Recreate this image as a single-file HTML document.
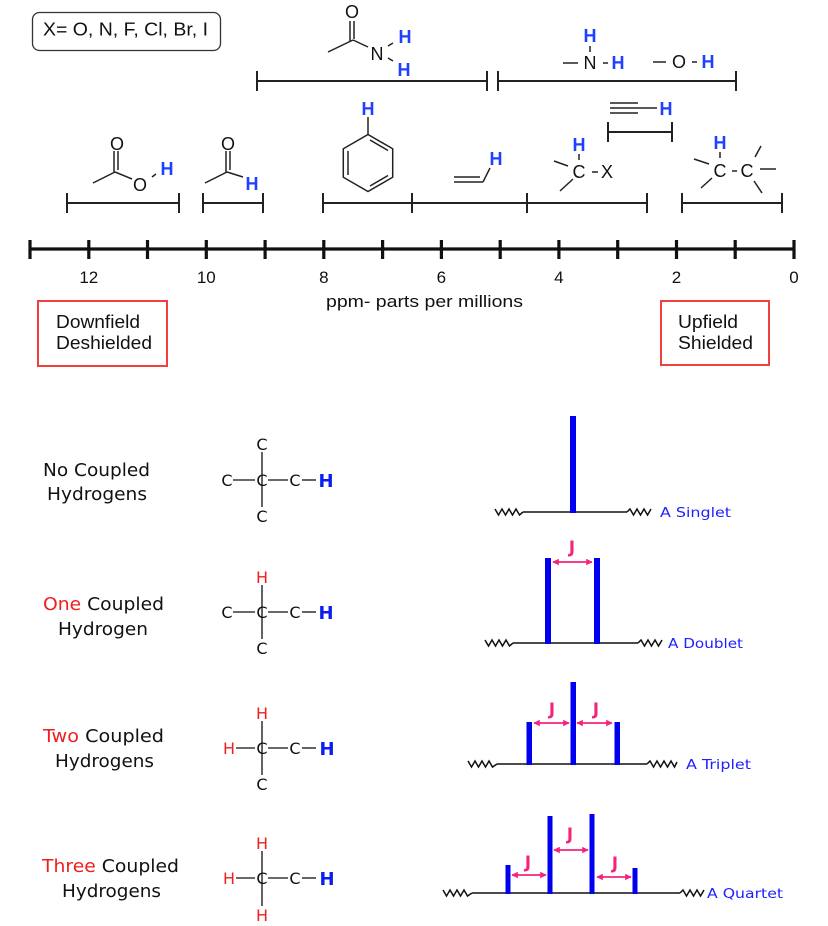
<!DOCTYPE html>
<html>
<head>
<meta charset="utf-8">
<style>
  html,body{margin:0;padding:0;background:#fff;}
  svg{display:block;}
  .ls{font-family:"Liberation Sans",Arial,sans-serif;}
  .dv{font-family:"DejaVu Sans",Verdana,sans-serif;}
</style>
</head>
<body>
<svg width="828" height="926" viewBox="0 0 828 926" xmlns="http://www.w3.org/2000/svg">
  <defs>
    <marker id="ah" viewBox="0 0 10 10" refX="9" refY="5" markerWidth="6.5" markerHeight="6.5" orient="auto-start-reverse" markerUnits="userSpaceOnUse">
      <path d="M0 0 L10 5 L0 10 z" fill="#f4247c"/>
    </marker>
  </defs>

  <!-- ============ TOP SECTION ============ -->
  <rect x="32.5" y="12.5" width="188" height="38" rx="7" ry="7" fill="none" stroke="#333" stroke-width="1.3"/>
  <text class="ls" x="43" y="35.5" font-size="18" fill="#111" textLength="165" lengthAdjust="spacingAndGlyphs">X= O, N, F, Cl, Br, I</text>

  <g stroke="#222" stroke-width="1.5" fill="none">
    <!-- amide -->
    <line x1="328" y1="52" x2="353" y2="40"/>
    <line x1="350" y1="21" x2="350" y2="41"/>
    <line x1="354" y1="21" x2="354" y2="39"/>
    <line x1="353" y1="40" x2="368" y2="47"/>
    <line x1="388" y1="46" x2="393" y2="43"/>
    <line x1="388" y1="58" x2="393" y2="61"/>
    <!-- NH -->
    <line x1="590" y1="46" x2="590" y2="52"/>
    <line x1="563" y1="63" x2="578" y2="63"/>
    <line x1="603" y1="63" x2="608" y2="63"/>
    <!-- OH -->
    <line x1="653" y1="62" x2="666" y2="62"/>
    <line x1="692" y1="62" x2="697" y2="62"/>
    <!-- alkyne -->
    <line x1="610" y1="103" x2="638" y2="103"/>
    <line x1="610" y1="108" x2="657" y2="108"/>
    <line x1="610" y1="113" x2="638" y2="113"/>
    <!-- acid -->
    <line x1="114" y1="151" x2="114" y2="172"/>
    <line x1="118" y1="151" x2="118" y2="170"/>
    <line x1="93" y1="183" x2="115" y2="172"/>
    <line x1="115" y1="172" x2="132" y2="179"/>
    <line x1="152" y1="177" x2="156" y2="174"/>
    <!-- aldehyde -->
    <line x1="226" y1="151" x2="226" y2="172"/>
    <line x1="230" y1="151" x2="230" y2="170"/>
    <line x1="205" y1="183" x2="227" y2="172"/>
    <line x1="227" y1="172" x2="243" y2="177"/>
    <!-- benzene -->
    <line x1="368" y1="117" x2="368" y2="134.5"/>
    <polygon points="368,134.5 392.7,148.75 392.7,177.25 368,191.5 343.3,177.25 343.3,148.75"/>
    <line x1="370" y1="140" x2="388" y2="150.5"/>
    <line x1="348" y1="151" x2="348" y2="175"/>
    <line x1="370" y1="186" x2="388" y2="175.5"/>
    <!-- vinyl -->
    <line x1="454" y1="177" x2="480" y2="177"/>
    <line x1="454" y1="182" x2="483" y2="182"/>
    <line x1="483" y1="182" x2="490" y2="168"/>
    <!-- C-X -->
    <line x1="579" y1="154" x2="579" y2="160"/>
    <line x1="554" y1="161" x2="568" y2="166"/>
    <line x1="560" y1="191" x2="573" y2="179"/>
    <line x1="592" y1="172" x2="598" y2="172"/>
    <!-- C-C -->
    <line x1="720" y1="152" x2="720" y2="158"/>
    <line x1="694" y1="159" x2="709" y2="164"/>
    <line x1="701" y1="188" x2="712" y2="178"/>
    <line x1="732" y1="171" x2="737" y2="171"/>
    <line x1="755" y1="157" x2="761" y2="146"/>
    <line x1="760" y1="169" x2="776" y2="169"/>
    <line x1="754" y1="181" x2="762" y2="193"/>
  </g>

  <!-- brackets -->
  <g stroke="#222" stroke-width="2" fill="none">
    <path d="M257 81 H487 M257 71 V91 M487 71 V91"/>
    <path d="M498 81 H736 M498 71 V91 M736 71 V91"/>
    <path d="M608 132 H672 M608 122 V142 M672 122 V142"/>
    <path d="M67 203 H179 M67 193 V213 M179 193 V213"/>
    <path d="M203 203 H263 M203 193 V213 M263 193 V213"/>
    <path d="M323 203 H647 M323 193 V213 M412 193 V213 M527 193 V213 M647 193 V213"/>
    <path d="M682 203 H782 M682 193 V213 M782 193 V213"/>
  </g>

  <!-- top letters -->
  <g class="ls" font-size="18" fill="#111" text-anchor="middle">
    <text x="352" y="18">O</text>
    <text x="377" y="60">N</text>
    <text x="590" y="69">N</text>
    <text x="679" y="68">O</text>
    <text x="117" y="150">O</text>
    <text x="140" y="191">O</text>
    <text x="228" y="150">O</text>
    <text x="579" y="178">C</text>
    <text x="607" y="178">X</text>
    <text x="720" y="177">C</text>
    <text x="747" y="177">C</text>
  </g>
  <g class="ls" font-size="18" font-weight="bold" fill="#2040ff" text-anchor="middle">
    <text x="405" y="43">H</text>
    <text x="404" y="76">H</text>
    <text x="590" y="42">H</text>
    <text x="618" y="69">H</text>
    <text x="708" y="68">H</text>
    <text x="666" y="115">H</text>
    <text x="167" y="175">H</text>
    <text x="252" y="190">H</text>
    <text x="368" y="115">H</text>
    <text x="496" y="165">H</text>
    <text x="579" y="151">H</text>
    <text x="720" y="149">H</text>
  </g>

  <!-- axis -->
  <g stroke="#111" stroke-width="3.2">
    <line x1="30" y1="249" x2="794" y2="249"/>
    <line x1="30" y1="240" x2="30" y2="259"/>
    <line x1="88.8" y1="240" x2="88.8" y2="259"/>
    <line x1="147.5" y1="240" x2="147.5" y2="259"/>
    <line x1="206.3" y1="240" x2="206.3" y2="259"/>
    <line x1="265.1" y1="240" x2="265.1" y2="259"/>
    <line x1="323.8" y1="240" x2="323.8" y2="259"/>
    <line x1="382.6" y1="240" x2="382.6" y2="259"/>
    <line x1="441.4" y1="240" x2="441.4" y2="259"/>
    <line x1="500.2" y1="240" x2="500.2" y2="259"/>
    <line x1="558.9" y1="240" x2="558.9" y2="259"/>
    <line x1="617.7" y1="240" x2="617.7" y2="259"/>
    <line x1="676.5" y1="240" x2="676.5" y2="259"/>
    <line x1="735.2" y1="240" x2="735.2" y2="259"/>
    <line x1="794" y1="240" x2="794" y2="259"/>
  </g>
  <g class="ls" font-size="17" fill="#111" text-anchor="middle">
    <text x="88.8" y="283">12</text>
    <text x="206.3" y="283">10</text>
    <text x="323.8" y="283">8</text>
    <text x="441.4" y="283">6</text>
    <text x="558.9" y="283">4</text>
    <text x="676.5" y="283">2</text>
    <text x="794" y="283">0</text>
  </g>
  <text class="ls" x="326" y="307" font-size="17" fill="#111" textLength="197" lengthAdjust="spacingAndGlyphs">ppm- parts per millions</text>

  <rect x="38" y="301" width="129" height="65" fill="none" stroke="#f04040" stroke-width="2"/>
  <text class="ls" x="56" y="328" font-size="18" fill="#111" textLength="84" lengthAdjust="spacingAndGlyphs">Downfield</text>
  <text class="ls" x="56" y="349" font-size="18" fill="#111" textLength="96" lengthAdjust="spacingAndGlyphs">Deshielded</text>

  <rect x="661" y="301" width="108" height="64" fill="none" stroke="#f04040" stroke-width="2"/>
  <text class="ls" x="678" y="328" font-size="18" fill="#111" textLength="60" lengthAdjust="spacingAndGlyphs">Upfield</text>
  <text class="ls" x="678" y="349" font-size="18" fill="#111" textLength="75" lengthAdjust="spacingAndGlyphs">Shielded</text>

  <!-- ============ BOTTOM SECTION ============ -->
  <g class="dv" font-size="18" fill="#111">
    <text x="43" y="476" textLength="107" lengthAdjust="spacingAndGlyphs">No Coupled</text>
    <text x="47" y="500" textLength="100" lengthAdjust="spacingAndGlyphs">Hydrogens</text>
    <text x="43" y="610" textLength="121" lengthAdjust="spacingAndGlyphs"><tspan fill="#ee2020">One</tspan> Coupled</text>
    <text x="58" y="635" textLength="90" lengthAdjust="spacingAndGlyphs">Hydrogen</text>
    <text x="43" y="742" textLength="121" lengthAdjust="spacingAndGlyphs"><tspan fill="#ee2020">Two</tspan> Coupled</text>
    <text x="55" y="767" textLength="99" lengthAdjust="spacingAndGlyphs">Hydrogens</text>
    <text x="42" y="872" textLength="137" lengthAdjust="spacingAndGlyphs"><tspan fill="#ee2020">Three</tspan> Coupled</text>
    <text x="62" y="897" textLength="99" lengthAdjust="spacingAndGlyphs">Hydrogens</text>
  </g>

  <!-- structure bonds -->
  <g stroke="#111" stroke-width="1.3">
    <line x1="262" y1="452" x2="262" y2="507"/>
    <line x1="233" y1="480" x2="255" y2="480"/>
    <line x1="268" y1="480" x2="288" y2="480"/>
    <line x1="302" y1="480" x2="316" y2="480"/>

    <line x1="262" y1="585" x2="262" y2="639"/>
    <line x1="233" y1="612" x2="255" y2="612"/>
    <line x1="268" y1="612" x2="288" y2="612"/>
    <line x1="302" y1="612" x2="316" y2="612"/>

    <line x1="262" y1="721" x2="262" y2="775"/>
    <line x1="236" y1="748" x2="255" y2="748"/>
    <line x1="268" y1="748" x2="288" y2="748"/>
    <line x1="302" y1="748" x2="316" y2="748"/>

    <line x1="262" y1="851" x2="262" y2="906"/>
    <line x1="236" y1="878" x2="255" y2="878"/>
    <line x1="268" y1="878" x2="288" y2="878"/>
    <line x1="302" y1="878" x2="316" y2="878"/>
  </g>
  <g class="dv" font-size="16" fill="#111" text-anchor="middle">
    <text x="262" y="450">C</text>
    <text x="227" y="486">C</text>
    <text x="262" y="486">C</text>
    <text x="295" y="486">C</text>
    <text x="262" y="522">C</text>

    <text x="227" y="618">C</text>
    <text x="262" y="618">C</text>
    <text x="295" y="618">C</text>
    <text x="262" y="654">C</text>

    <text x="262" y="754">C</text>
    <text x="295" y="754">C</text>
    <text x="262" y="790">C</text>

    <text x="262" y="884">C</text>
    <text x="295" y="884">C</text>
  </g>
  <g class="dv" font-size="16" fill="#ee2020" text-anchor="middle">
    <text x="262" y="583">H</text>
    <text x="262" y="719">H</text>
    <text x="229" y="754">H</text>
    <text x="262" y="849">H</text>
    <text x="229" y="884">H</text>
    <text x="262" y="921">H</text>
  </g>
  <g class="dv" font-size="18" font-weight="bold" fill="#0a1ef0" text-anchor="middle">
    <text x="326" y="487">H</text>
    <text x="326" y="619">H</text>
    <text x="327" y="755">H</text>
    <text x="327" y="885">H</text>
  </g>

  <!-- spectra baselines & zigzags -->
  <g stroke="#111" stroke-width="1.5" fill="none" stroke-linejoin="miter">
    <line x1="523" y1="512" x2="627" y2="512"/>
    <path d="M495 509 L498.5 515 L502 509 L505.5 515 L509 509 L512.5 515 L516 509 L519.5 515 L523 512"/>
    <path d="M627 512 L630 509 L633.5 515 L637 509 L640.5 515 L644 509 L647.5 515 L651 509"/>

    <line x1="513" y1="643" x2="638" y2="643"/>
    <path d="M485 640 L488.5 646 L492 640 L495.5 646 L499 640 L502.5 646 L506 640 L509.5 646 L513 643"/>
    <path d="M638 643 L641 640 L644.5 646 L648 640 L651.5 646 L655 640 L658.5 646 L662 640"/>

    <line x1="497" y1="764" x2="647" y2="764"/>
    <path d="M468 761 L471.5 767 L475 761 L478.5 767 L482 761 L485.5 767 L489 761 L492.5 767 L497 764"/>
    <path d="M647 764 L650 761 L653.5 767 L657 761 L660.5 767 L664 761 L667.5 767 L671 761 L674.5 767 L677 762"/>

    <line x1="472" y1="893" x2="680" y2="893"/>
    <path d="M443 890 L446.5 896 L450 890 L453.5 896 L457 890 L460.5 896 L464 890 L467.5 896 L472 893"/>
    <path d="M680 893 L683 890 L686.5 896 L690 890 L693.5 896 L697 890 L700.5 896 L704 890"/>
  </g>

  <!-- blue bars -->
  <g fill="#0000ee">
    <rect x="570" y="416" width="6" height="97"/>

    <rect x="545" y="558" width="6" height="86"/>
    <rect x="594" y="558" width="6" height="86"/>

    <rect x="526.5" y="722" width="5.5" height="43"/>
    <rect x="570.5" y="682" width="5.5" height="83"/>
    <rect x="614.5" y="722" width="5.5" height="43"/>

    <rect x="505.5" y="865" width="5" height="29"/>
    <rect x="547.5" y="816" width="5" height="78"/>
    <rect x="589.5" y="814" width="5" height="80"/>
    <rect x="632.5" y="868" width="5" height="26"/>
  </g>

  <!-- J arrows -->
  <g stroke="#f4247c" stroke-width="1.8" fill="none">
    <line x1="553" y1="562" x2="592" y2="562" marker-start="url(#ah)" marker-end="url(#ah)"/>
    <line x1="534" y1="723" x2="569" y2="723" marker-start="url(#ah)" marker-end="url(#ah)"/>
    <line x1="577" y1="723" x2="612" y2="723" marker-start="url(#ah)" marker-end="url(#ah)"/>
    <line x1="512" y1="875" x2="546" y2="875" marker-start="url(#ah)" marker-end="url(#ah)"/>
    <line x1="554" y1="850" x2="588" y2="850" marker-start="url(#ah)" marker-end="url(#ah)"/>
    <line x1="597" y1="877" x2="631" y2="877" marker-start="url(#ah)" marker-end="url(#ah)"/>
  </g>
  <g class="dv" font-size="16.5" font-weight="bold" fill="#f4247c" text-anchor="middle">
    <text x="572" y="553">J</text>
    <text x="552" y="715">J</text>
    <text x="596" y="715">J</text>
    <text x="528" y="868">J</text>
    <text x="570" y="840">J</text>
    <text x="615" y="869">J</text>
  </g>

  <!-- spectra labels -->
  <g class="dv" font-size="13" fill="#2020ff">
    <text x="660" y="517" textLength="71" lengthAdjust="spacingAndGlyphs">A Singlet</text>
    <text x="668" y="648" textLength="75" lengthAdjust="spacingAndGlyphs">A Doublet</text>
    <text x="686" y="769" textLength="65" lengthAdjust="spacingAndGlyphs">A Triplet</text>
    <text x="707" y="898" textLength="76" lengthAdjust="spacingAndGlyphs">A Quartet</text>
  </g>
</svg>
</body>
</html>
